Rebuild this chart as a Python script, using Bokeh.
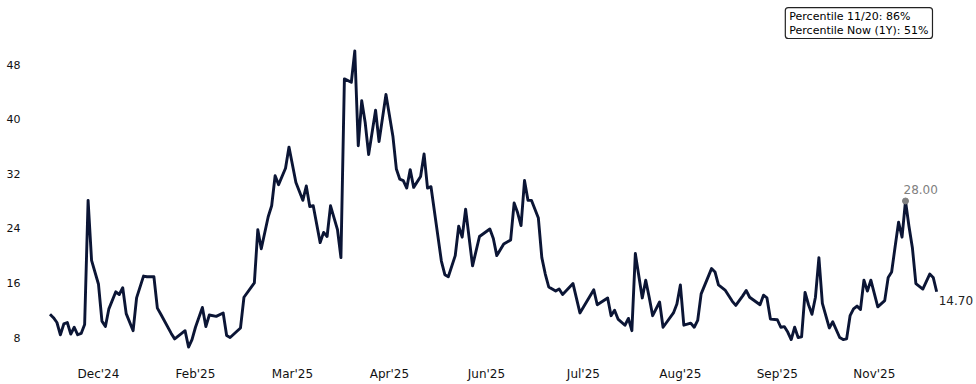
from bokeh.plotting import figure
from bokeh.models import FixedTicker, Range1d, Label, ColumnDataSource
from bokeh.core.properties import value
from bokeh.embed import file_html
from bokeh.resources import INLINE

# trading-day index and values
days = [0, 1, 2, 3, 4, 5, 6, 7, 8, 9, 10, 11, 12, 14, 15, 16, 17, 19, 20, 21,
        22, 24, 25, 27, 28, 30, 31, 32, 35, 36, 39, 40, 41, 42, 44, 45, 46, 48, 50, 51,
        52, 55, 56, 59, 60, 61, 63, 64, 65, 66, 68, 69, 71, 73, 74, 75, 76, 78, 79, 80,
        81, 83, 84, 85, 87, 88, 89, 90, 91, 92, 94, 95, 97, 99, 100, 101, 102, 103, 104, 105,
        107, 108, 109, 110, 113, 114, 115, 117, 118, 119, 120, 122, 124, 127, 128, 129, 131, 133, 134, 135,
        136, 137, 138, 139, 141, 142, 143, 144, 146, 147, 148, 151, 153, 157, 158, 161, 162, 163, 164, 166,
        167, 168, 169, 171, 172, 173, 174, 176, 177, 178, 180, 181, 182, 183, 185, 186, 187, 188, 191, 192,
        193, 194, 195, 197, 198, 200, 201, 202, 205, 206, 207, 208, 210, 211, 212, 213, 214, 215, 216, 217,
        218, 219, 220, 221, 222, 223, 225, 226, 228, 229, 230, 231, 232, 233, 234, 235, 236, 237, 239, 241,
        242, 243, 244, 245, 246, 247, 248, 249, 250, 252, 254, 255, 256]
values = [11.4, 10.9, 10.2, 8.4, 10.0, 10.2, 8.5, 9.5, 8.4, 8.6, 9.9, 28.1, 19.3, 15.8, 10.4, 9.6, 12.2, 14.7, 14.3, 15.3,
          11.5, 9.0, 13.8, 17.0, 16.9, 16.9, 12.3, 11.4, 8.6, 7.8, 9.0, 6.6, 7.7, 9.5, 12.4, 9.6, 11.3, 11.1, 11.6, 8.3,
          8.0, 9.4, 13.9, 16.0, 23.8, 21.0, 25.7, 27.3, 31.7, 30.4, 32.8, 35.9, 30.7, 28.1, 30.2, 27.2, 27.3, 21.9, 23.4, 22.8,
          27.3, 23.8, 19.7, 45.9, 45.4, 50.0, 36.1, 42.7, 39.5, 34.8, 41.3, 36.7, 43.6, 37.5, 32.7, 31.2, 31.0, 29.9, 32.6, 30.0,
          31.6, 34.9, 29.9, 30.1, 19.2, 17.2, 16.9, 20.0, 24.3, 22.7, 26.8, 18.5, 22.8, 23.9, 22.5, 20.0, 21.7, 22.3, 27.7, 26.3,
          24.4, 31.0, 28.1, 28.1, 25.5, 19.7, 17.3, 15.4, 14.8, 15.1, 14.3, 15.9, 11.6, 15.0, 12.8, 13.8, 11.2, 12.0, 10.7, 9.8,
          10.8, 9.0, 20.3, 13.8, 16.4, 13.9, 11.2, 13.2, 9.5, 10.2, 11.6, 12.9, 15.7, 9.8, 10.1, 9.5, 10.5, 14.4, 18.1, 17.6,
          15.7, 15.3, 14.9, 13.3, 12.7, 14.1, 14.9, 13.9, 12.8, 14.2, 13.8, 10.7, 10.6, 9.5, 9.6, 8.8, 7.7, 9.5, 8.0, 8.1,
          14.6, 12.8, 11.4, 13.9, 19.7, 13.0, 9.4, 10.3, 8.0, 7.7, 7.8, 11.2, 12.2, 12.6, 12.1, 16.4, 14.8, 16.4, 12.5, 13.4,
          16.8, 17.6, 21.3, 24.9, 22.7, 28.0, 24.3, 21.1, 15.9, 15.1, 17.3, 16.8, 14.7]

tick_days = [14, 42, 70, 98, 126, 154, 182, 210, 238]
tick_labels = ["Dec'24", "Feb'25", "Mar'25", "Apr'25", "Jun'25", "Jul'25", "Aug'25", "Sep'25", "Nov'25"]
y_ticks = [8, 16, 24, 32, 40, 48]

peak_day = 247
peak_value = 28.00
last_day = days[-1]
last_value = 14.70
info_lines = ["Percentile 11/20: 86%", "Percentile Now (1Y): 51%"]

FONT = "DejaVu Sans"
LINE = "#0b1535"

p = figure(width=976, height=384, output_backend="svg", toolbar_location=None,
           x_range=Range1d(-5.63, 267.5), y_range=Range1d(5.363, 57.38),
           min_border_left=30, min_border_right=0, min_border_top=0, min_border_bottom=29)
p.outline_line_color = None
p.grid.visible = False
p.background_fill_color = "white"
p.border_fill_color = "white"

src = ColumnDataSource(dict(x=days, y=values))
p.line("x", "y", source=src, line_color=LINE, line_width=2.9, line_join="round")

p.scatter([peak_day], [peak_value], size=6, color="#808080")
p.text([peak_day], [peak_value], text=[f"{peak_value:.2f}"], text_font=value(FONT),
       text_font_size="12px", text_color="#808080", text_align="left",
       text_baseline="middle", x_offset=-2, y_offset=-12)
p.text([last_day], [last_value], text=[f"{last_value:.2f}"], text_font=value(FONT),
       text_font_size="12px", text_color="#222222", text_align="left",
       text_baseline="middle", x_offset=2, y_offset=9)

for ax in (p.xaxis, p.yaxis):
    ax.axis_line_color = None
    ax.major_tick_line_color = None
    ax.minor_tick_line_color = None
    ax.major_tick_out = 0
    ax.major_tick_in = 0
    ax.major_label_text_font = FONT
    ax.major_label_text_color = "#111111"

p.xaxis.ticker = FixedTicker(ticks=tick_days)
p.xaxis.major_label_overrides = {d: l for d, l in zip(tick_days, tick_labels)}
p.xaxis.major_label_text_font_size = "12px"
p.xaxis.major_label_standoff = 11

p.yaxis.ticker = FixedTicker(ticks=y_ticks)
p.yaxis.major_label_text_font_size = "11px"
p.yaxis.major_label_standoff = 10

info = Label(x=212.3, y=56.35, text="\n".join(info_lines), text_font=FONT,
             text_font_size="11px", text_color="#000000", text_align="left",
             text_baseline="top", text_line_height=1.15,
             padding=dict(left=4, right=4, top=2, bottom=1),
             border_line_color="#222222",
             border_line_width=1.2, border_radius=3, background_fill_color="white")
p.add_layout(info)

open("out.html", "w").write(file_html(p, INLINE))
